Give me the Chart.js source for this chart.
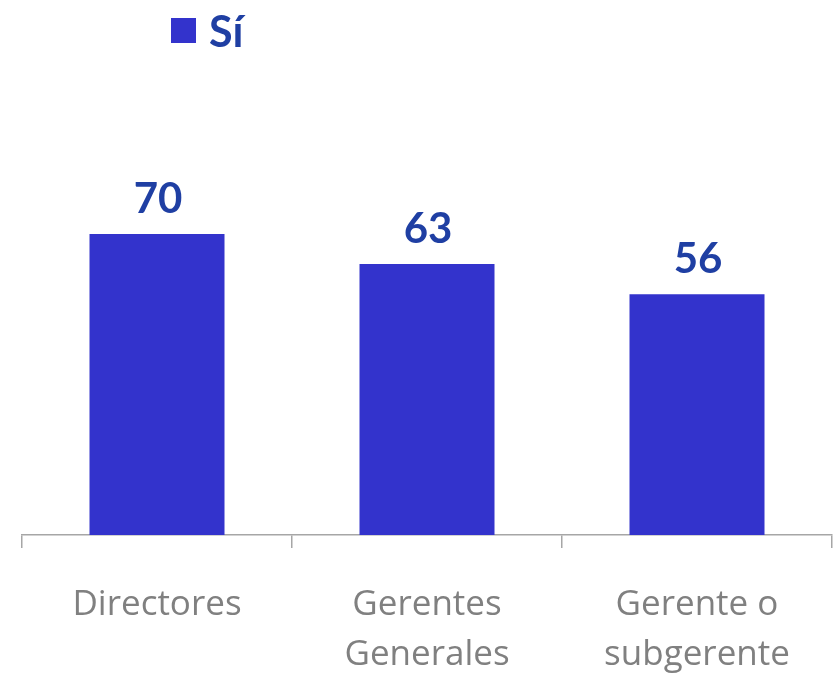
<!DOCTYPE html>
<html>
<head>
<meta charset="utf-8">
<script src="https://cdn.jsdelivr.net/npm/chart.js@4"></script>
<style>
    body { margin: 0; background: #ffffff; }
    #wrap { position: relative; width: 836px; height: 678px; }
    #legend { position: absolute; left: 171px; top: 0; height: 60px; display: flex; align-items: center; font: bold 43px Lato, sans-serif; color: #1f3fa3; }
    #legend .box { width: 25px; height: 25px; margin-right: 13px; }
</style>
</head>
<body>
<div id="wrap">
    <canvas id="barChart" width="836" height="678"></canvas>
    <div id="legend"></div>
</div>
<script>
const categories = [['Directores'], ['Gerentes', 'Generales'], ['Gerente o', 'subgerente']];
const seriesName = 'Sí';
const siValues = [70, 63, 56];

const barColor = '#3333cc';
const labelColor = '#1f3fa3';

// Draw value labels above each bar
const valueLabels = {
    id: 'valueLabels',
    afterDatasetsDraw(chart) {
        const ctx = chart.ctx;
        const meta = chart.getDatasetMeta(0);
        ctx.save();
        ctx.font = 'bold 42px Lato, sans-serif';
        ctx.fillStyle = labelColor;
        ctx.textAlign = 'center';
        ctx.textBaseline = 'alphabetic';
        meta.data.forEach((bar, i) => {
            ctx.fillText(String(chart.data.datasets[0].data[i]), bar.x + 1, bar.y - 21);
        });
        ctx.restore();
    }
};

const ctx = document.getElementById('barChart').getContext('2d');
const chart = new Chart(ctx, {
    type: 'bar',
    data: {
        labels: categories,
        datasets: [{
            label: seriesName,
            data: siValues,
            backgroundColor: barColor,
            borderWidth: 0,
            barPercentage: 0.5,
            categoryPercentage: 1
        }]
    },
    options: {
        responsive: false,
        animation: false,
        layout: {
            padding: { top: 105, left: 22, right: 4, bottom: 0 }
        },
        plugins: {
            legend: { display: false },
            tooltip: { enabled: false }
        },
        scales: {
            y: {
                display: false,
                min: 0,
                max: 100
            },
            x: {
                afterFit: function (scale) {
                    scale.height = 143;
                },
                border: { color: '#a6a6a6', width: 1.5 },
                grid: {
                    drawOnChartArea: false,
                    color: '#a6a6a6',
                    lineWidth: 1.5,
                    tickLength: 13,
                    offset: true
                },
                ticks: {
                    color: '#808080',
                    font: { family: '"Open Sans", sans-serif', size: 35, lineHeight: '50px' },
                    padding: 32,
                    maxRotation: 0,
                    autoSkip: false
                }
            }
        }
    },
    plugins: [valueLabels]
});

// Legend built from the dataset
const legend = document.getElementById('legend');
chart.data.datasets.forEach(ds => {
    const box = document.createElement('span');
    box.className = 'box';
    box.style.background = ds.backgroundColor;
    const txt = document.createElement('span');
    txt.textContent = ds.label;
    legend.appendChild(box);
    legend.appendChild(txt);
});
</script>
</body>
</html>
